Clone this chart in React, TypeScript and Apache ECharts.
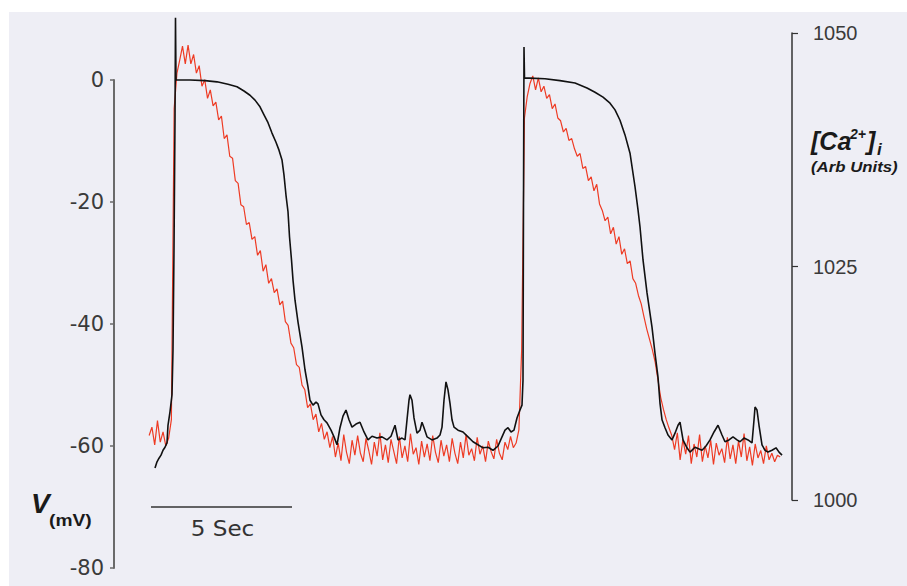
import React, { useEffect, useRef } from "react";
import * as echarts from "echarts";

// Membrane potential (mV) trace: time (s) and voltage
const vTime = [
  1.511, 1.583, 1.655, 1.727, 1.799, 1.871, 1.942, 1.978, 2.05, 2.122, 2.158, 2.194, 2.23, 2.248, 2.266,
  2.77, 3.309, 3.741, 4.137, 4.46, 4.712, 4.928, 5.108, 5.288, 5.432, 5.576, 5.719, 5.863, 5.971, 6.079,
  6.151, 6.223, 6.295, 6.349, 6.421, 6.475, 6.547, 6.655, 6.799, 6.906, 7.014, 7.086, 7.194, 7.302, 7.374,
  7.482, 7.59, 7.698, 7.842, 7.95, 8.058, 8.165, 8.273, 8.381, 8.489, 8.597, 8.741, 8.885, 9.029, 9.173,
  9.317, 9.496, 9.676, 9.856, 10.0, 10.144, 10.252, 10.396, 10.504, 10.576, 10.647, 10.683, 10.755, 10.827, 10.935,
  11.043, 11.115, 11.187, 11.295, 11.475, 11.655, 11.763, 11.835, 11.906, 11.978, 12.05, 12.122, 12.194, 12.266, 12.41,
  12.59, 12.77, 12.95, 13.129, 13.309, 13.489, 13.669, 13.849, 13.993, 14.101, 14.209, 14.317, 14.424, 14.532, 14.64,
  14.712, 14.748, 14.766, 14.784, 14.802, 14.982, 15.54, 16.079, 16.619, 17.05, 17.338, 17.626, 17.878, 18.058, 18.237,
  18.417, 18.597, 18.777, 18.885, 18.957, 19.065, 19.209, 19.388, 19.496, 19.604, 19.676, 19.748, 19.856, 19.964, 20.108,
  20.216, 20.324, 20.396, 20.504, 20.647, 20.755, 20.935, 21.187, 21.331, 21.475, 21.619, 21.763, 21.906, 22.014, 22.158,
  22.302, 22.446, 22.554, 22.698, 22.842, 22.986, 23.058, 23.094, 23.165, 23.237, 23.345, 23.453, 23.561, 23.705, 23.849,
  23.957, 24.065,
];
const vValues = [
  -63.6, -62.6, -62.0, -61.5, -60.7, -60.2, -59.5, -56.6, -54.4, -51.6, -44.3, -27.9, -6.6, 10.2, 0,
  0, -0.1, -0.3, -0.7, -1.1, -1.8, -2.5, -3.3, -4.4, -5.7, -7.0, -8.7, -10.2, -11.5, -13.1,
  -15.6, -18.9, -21.6, -25.7, -29.5, -32.8, -36.1, -39.7, -43.8, -47.5, -50.3, -52.5, -53.3, -52.8, -53.1,
  -54.9, -55.7, -56.2, -57.4, -58.5, -59.8, -57.0, -55.1, -54.1, -55.7, -56.9, -56.4, -56.1, -57.7, -59.0,
  -58.4, -58.7, -58.5, -59.0, -58.4, -56.6, -59.0, -58.7, -59.0, -55.7, -52.5, -51.6, -52.5, -55.4, -57.9,
  -57.4, -56.1, -57.0, -58.5, -59.0, -58.7, -58.2, -56.9, -52.5, -49.5, -50.8, -53.0, -55.7, -56.9, -57.4,
  -57.7, -58.5, -59.3, -59.8, -60.3, -60.2, -60.7, -60.0, -58.5, -57.4, -57.0, -57.7, -57.4, -55.4, -54.1,
  -53.3, -49.2, -19.7, 5.4, 0.3, 0.3, 0.2, -0.1, -0.5, -1.3, -2.0, -2.8, -3.8, -4.9, -6.6,
  -9.0, -12.0, -17.5, -21.3, -24.1, -29.5, -34.9, -40.5, -44.8, -48.7, -53.0, -55.7, -57.0, -58.2, -59.0,
  -57.9, -56.6, -56.1, -59.0, -60.3, -61.0, -60.2, -60.7, -60.0, -59.0, -57.7, -56.6, -58.2, -59.3, -59.0,
  -58.5, -59.0, -59.3, -58.7, -59.0, -59.5, -55.7, -53.6, -54.1, -56.6, -59.8, -60.7, -61.0, -60.7, -60.3,
  -61.0, -61.5,
];

// [Ca2+]i trace (arb units), sampled every 0.1 s from 1.3 s
const caStart = 1.3;
const caStep = 0.1;
const caValues = [
  1006.9, 1007.8, 1005.9, 1008.5, 1006.2, 1007.3, 1005.8, 1006.6,
  1008.6, 1041.9, 1045.7, 1047.1, 1048.6, 1046.7, 1048.7, 1046.7, 1047.7,
  1045.7, 1046.5, 1044.3, 1045.0, 1043.0, 1043.9, 1042.2, 1042.6, 1040.7, 1041.1,
  1038.7, 1039.1, 1036.8, 1036.6, 1034.2, 1033.9, 1031.6, 1031.4, 1029.5, 1029.7,
  1027.9, 1028.2, 1026.2, 1026.7, 1024.5, 1025.2, 1023.2, 1023.7, 1022.2, 1022.6,
  1020.9, 1021.3, 1019.1, 1018.7, 1016.8, 1016.3, 1014.5, 1014.2, 1012.3, 1011.8,
  1009.9, 1010.3, 1008.6, 1009.2, 1007.3, 1008.2, 1006.5, 1007.3, 1005.6,
  1006.8, 1004.6, 1006.1, 1004.2, 1007.0, 1005.1, 1003.9, 1006.4, 1004.8, 1006.9,
  1005.0, 1004.1, 1006.6, 1005.3, 1003.8, 1006.2, 1004.7, 1007.2, 1004.3, 1005.9,
  1004.0, 1006.5, 1005.2, 1003.9, 1006.8, 1004.5, 1005.8, 1004.1, 1007.1, 1004.9,
  1005.6, 1003.8, 1006.3, 1004.6, 1006.0, 1004.2, 1006.9, 1005.1, 1004.0, 1006.4,
  1004.7, 1005.9, 1004.1, 1006.6, 1005.0, 1003.9, 1006.2, 1004.5, 1007.0, 1004.8,
  1005.5, 1004.2, 1006.7, 1004.9, 1005.8, 1004.1, 1006.3, 1005.2, 1004.4, 1006.5,
  1005.0, 1004.3, 1006.2, 1005.4, 1006.8, 1005.6, 1006.1,
  1007.5, 1016.1, 1040.9, 1043.2, 1044.6, 1045.4, 1043.9, 1045.2, 1043.7, 1044.3,
  1043.0, 1043.4, 1041.9, 1042.4, 1040.9, 1040.6, 1039.4, 1039.8, 1038.5, 1038.7,
  1037.6, 1036.8, 1037.1, 1035.5, 1035.7, 1034.2, 1034.6, 1033.1, 1033.8, 1031.7,
  1031.0, 1029.9, 1030.3, 1028.5, 1029.2, 1027.4, 1028.2, 1026.3, 1026.9, 1025.3,
  1025.6, 1023.7, 1023.2, 1021.9, 1021.0, 1019.6, 1018.3, 1017.2, 1016.1, 1014.8,
  1012.9, 1011.0, 1009.7, 1008.6, 1007.7, 1006.9,
  1005.4, 1007.2, 1004.3, 1006.5, 1004.9, 1006.9, 1003.9, 1006.0, 1004.6, 1007.0,
  1004.1, 1005.8, 1004.5, 1006.4, 1003.8, 1006.1, 1004.8, 1005.5, 1004.0, 1006.7,
  1004.4, 1005.9, 1003.9, 1006.3, 1004.6, 1007.1, 1004.2, 1005.7, 1003.7, 1006.0,
  1004.5, 1005.3, 1003.9, 1005.8, 1004.3, 1005.0, 1004.1, 1004.8, 1004.6,
];

const vTicks = { min: -80, max: 0, interval: 20 };
const caTicks = { min: 1000, max: 1050, interval: 25 };
const timeRange = { min: 0.036, max: 24.424 };
const scaleBarLabel = "5 Sec";

export default function App() {
  const ref = useRef<HTMLDivElement>(null);
  useEffect(() => {
    if (!ref.current) return;
    const chart = echarts.init(ref.current, undefined, { renderer: "svg" });
    const vData = vTime.map((t, i) => [t, vValues[i]]);
    const caData = caValues.map((v, i) => [caStart + i * caStep, v]);
    const boldItalic = { fontFamily: "Liberation Sans, Arial, sans-serif", fontWeight: "bold", fontStyle: "italic", fill: "#1a1a1a" };
    chart.setOption({
      animation: false,
      backgroundColor: "#eeeef5",
      grid: [
        { left: 105, right: 115, top: 68, bottom: 18 },
        { left: 105, right: 115, top: 21, bottom: 86 },
      ],
      xAxis: [
        { type: "value", gridIndex: 0, min: timeRange.min, max: timeRange.max, show: false },
        { type: "value", gridIndex: 1, min: timeRange.min, max: timeRange.max, show: false },
      ],
      yAxis: [
        {
          type: "value", gridIndex: 0, position: "left",
          min: vTicks.min, max: vTicks.max, interval: vTicks.interval,
          splitLine: { show: false },
          axisLine: { show: true, lineStyle: { color: "#6a6a6a", width: 2 } },
          axisTick: { show: true, length: 4, lineStyle: { color: "#6a6a6a", width: 1.5 } },
          axisLabel: { color: "#3a3a3a", fontSize: 21, fontFamily: "DejaVu Sans", margin: 10, formatter: (v: number) => String(v) },
        },
        {
          type: "value", gridIndex: 1, position: "right",
          min: caTicks.min, max: caTicks.max, interval: caTicks.interval,
          splitLine: { show: false },
          axisLine: { show: true, lineStyle: { color: "#333", width: 1.5 } },
          axisTick: { show: true, length: 6, lineStyle: { color: "#333", width: 1.2 } },
          axisLabel: { color: "#3a3a3a", fontSize: 20, fontFamily: "Liberation Sans, Arial", margin: 21, formatter: (v: number) => String(v) },
        },
      ],
      series: [
        {
          type: "line", xAxisIndex: 1, yAxisIndex: 1, data: caData, showSymbol: false, z: 2,
          lineStyle: { color: "#ee3b24", width: 1.2 },
        },
        {
          type: "line", xAxisIndex: 0, yAxisIndex: 0, data: vData, showSymbol: false, clip: false, z: 3,
          lineStyle: { color: "#111", width: 1.6 },
        },
      ],
      graphic: [
        { type: "line", shape: { x1: 142, y1: 495, x2: 283, y2: 495 }, style: { stroke: "#333", lineWidth: 1.5 } },
        {
          type: "text", x: 213.5, y: 517, scaleX: 1.1,
          style: { text: scaleBarLabel, fontSize: 21, fontFamily: "DejaVu Sans", fill: "#333", align: "center", verticalAlign: "middle" },
        },
        { type: "text", x: 22, y: 491, style: { ...boldItalic, text: "V", fontSize: 28, align: "left", verticalAlign: "middle" } },
        {
          type: "text", x: 40, y: 509, scaleX: 1.2,
          style: { text: "(mV)", fontSize: 16, fontWeight: "bold", fontFamily: "Liberation Sans, Arial", fill: "#1a1a1a", align: "left", verticalAlign: "middle" },
        },
        { type: "text", x: 802, y: 129, style: { ...boldItalic, text: "[Ca", fontSize: 25, align: "left", verticalAlign: "middle" } },
        { type: "text", x: 841, y: 122, style: { ...boldItalic, text: "2+", fontSize: 14, align: "left", verticalAlign: "middle" } },
        { type: "text", x: 858, y: 129, style: { ...boldItalic, text: "]", fontSize: 25, align: "left", verticalAlign: "middle" } },
        { type: "text", x: 868, y: 137, style: { ...boldItalic, text: "i", fontSize: 17, align: "left", verticalAlign: "middle" } },
        { type: "text", x: 802, y: 155, scaleX: 1.12, style: { ...boldItalic, text: "(Arb Units)", fontSize: 15, align: "left", verticalAlign: "middle" } },
      ],
    });
    return () => chart.dispose();
  }, []);
  return (
    <div style={{ position: "fixed", left: 0, top: 0, width: 907, height: 586, background: "#fff" }}>
      <div ref={ref} style={{ position: "absolute", left: 9, top: 12, width: 898, height: 574 }} />
    </div>
  );
}
